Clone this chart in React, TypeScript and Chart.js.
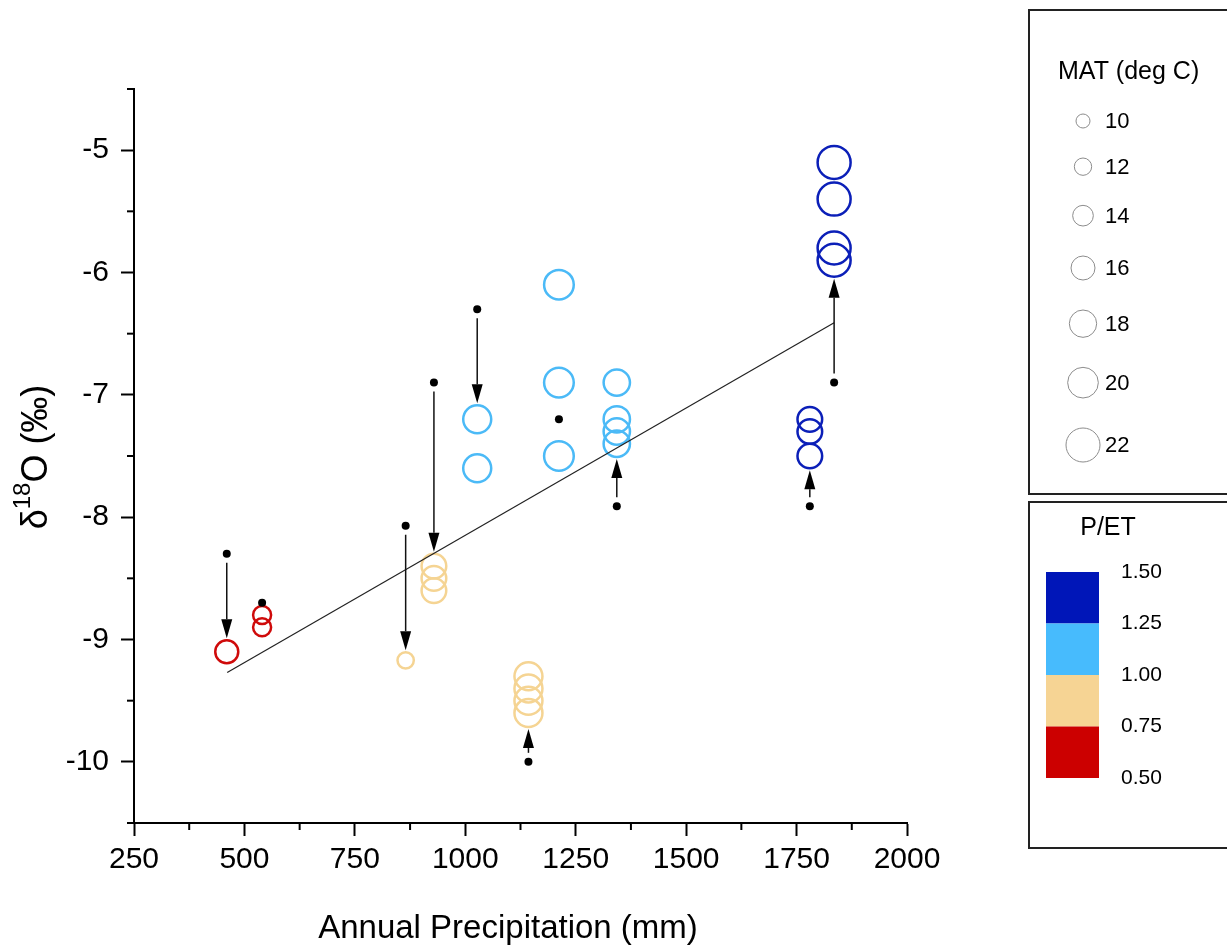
import React, { useEffect, useRef } from 'react';
import { Chart, registerables } from 'chart.js';

Chart.register(...registerables);

// ---- Data ----
// P/ET 0.50-0.75 (red)
const redPrecip = [460, 540, 540];
const redD18O = [-9.1, -8.8, -8.9];
const redMAT = [16, 13, 13];
// P/ET 0.75-1.00 (tan)
const tanPrecip = [865, 929, 929, 929, 1143, 1143, 1143, 1143];
const tanD18O = [-9.17, -8.4, -8.5, -8.6, -9.3, -9.4, -9.5, -9.6];
const tanMAT = [12, 17, 17, 17, 19, 19, 19, 19];
// P/ET 1.00-1.25 (light blue)
const lightPrecip = [1027, 1027, 1212, 1212, 1212, 1343, 1343, 1343, 1343];
const lightD18O = [-7.2, -7.6, -6.1, -6.9, -7.5, -6.9, -7.2, -7.3, -7.4];
const lightMAT = [19, 19, 20, 20, 20, 18, 18, 18, 18];
// P/ET 1.25-1.50 (dark blue)
const darkPrecip = [1780, 1780, 1780, 1835, 1835, 1835, 1835];
const darkD18O = [-7.2, -7.3, -7.5, -5.1, -5.4, -5.8, -5.9];
const darkMAT = [17, 17, 17, 22, 22, 22, 22];

// small black points (starting values)
const dotPrecip = [460, 540, 865, 929, 1027, 1143, 1212, 1343, 1780, 1835];
const dotD18O = [-8.3, -8.7, -8.07, -6.9, -6.3, -10.0, -7.2, -7.91, -7.91, -6.9];

// arrows from black points to circles
const arrowPrecip = [460, 865, 929, 1027, 1143, 1343, 1780, 1835];
const arrowFrom = [-8.3, -8.07, -6.9, -6.3, -10.0, -7.91, -7.91, -6.9];
const arrowTo = [-9.1, -9.17, -8.4, -7.2, -9.6, -7.4, -7.5, -5.9];
const arrowToMAT = [16, 12, 17, 19, 19, 18, 17, 22];

// regression line
const fitPrecip = [461, 1835];
const fitD18O = [-9.27, -6.41];

// legends
const matLegend = [10, 12, 14, 16, 18, 20, 22];
const petLabels = ['1.50', '1.25', '1.00', '0.75', '0.50'];
const petColors = ['#0016b8', '#47bbfd', '#f6d494', '#cc0000'];

const circleColors = { red: '#cf0a0a', tan: '#f5d493', light: '#4bbaf7', dark: '#0b1fb8' };

const FONT = '"Liberation Sans", Arial, Helvetica, sans-serif';
const matToRadius = (m: number) => 6.5 + ((m - 10) * 10) / 12;

const pts = (xs: number[], ys: number[]) => xs.map((x, i) => ({ x, y: ys[i] }));

const circleDataset = (label: string, xs: number[], ys: number[], mats: number[], color: string) => ({
  type: 'scatter' as const,
  label,
  data: pts(xs, ys),
  showLine: false,
  pointRadius: (c: any) => matToRadius(mats[c.dataIndex]),
  pointBorderWidth: 2.5,
  pointBorderColor: color,
  pointBackgroundColor: 'rgba(0,0,0,0)',
});

const overlay = {
  id: 'overlay',
  afterDatasetsDraw(chart: any) {
    const ctx = chart.ctx;
    const xs = chart.scales.x;
    const ys = chart.scales.y;
    ctx.save();
    ctx.strokeStyle = '#111';
    ctx.fillStyle = '#000';
    ctx.lineWidth = 1.5;
    arrowPrecip.forEach((p, i) => {
      const x = xs.getPixelForValue(p);
      const y0 = ys.getPixelForValue(arrowFrom[i]);
      const yc = ys.getPixelForValue(arrowTo[i]);
      const dir = yc > y0 ? 1 : -1;
      const tip = yc - dir * (matToRadius(arrowToMAT[i]) + 2);
      const head = 19;
      const start = y0 + dir * 9;
      ctx.beginPath();
      ctx.moveTo(x, start);
      ctx.lineTo(x, tip - dir * head);
      ctx.stroke();
      ctx.beginPath();
      ctx.moveTo(x, tip);
      ctx.lineTo(x - 5.5, tip - dir * head);
      ctx.lineTo(x + 5.5, tip - dir * head);
      ctx.closePath();
      ctx.fill();
    });
    ctx.restore();
  },
  afterDraw(chart: any) {
    const ctx = chart.ctx;
    const xs = chart.scales.x;
    const ys = chart.scales.y;
    const area = chart.chartArea;
    ctx.save();
    // minor ticks
    ctx.strokeStyle = '#000';
    ctx.lineWidth = 2;
    for (let v = 375; v < 2000; v += 250) {
      const x = xs.getPixelForValue(v);
      ctx.beginPath();
      ctx.moveTo(x, area.bottom);
      ctx.lineTo(x, area.bottom + 7);
      ctx.stroke();
    }
    for (let v = -10.5; v <= -4.5; v += 1) {
      const y = ys.getPixelForValue(v);
      ctx.beginPath();
      ctx.moveTo(area.left, y);
      ctx.lineTo(area.left - 7, y);
      ctx.stroke();
    }

    // x title
    ctx.fillStyle = '#000';
    ctx.font = `33px ${FONT}`;
    ctx.textAlign = 'center';
    ctx.textBaseline = 'middle';
    ctx.fillText('Annual Precipitation (mm)', 508, 929);

    // y title with superscript
    ctx.save();
    ctx.translate(47, 457);
    ctx.rotate(-Math.PI / 2);
    ctx.textBaseline = 'alphabetic';
    ctx.textAlign = 'left';
    const big = `36px ${FONT}`;
    const small = `24px ${FONT}`;
    ctx.font = big;
    const w1 = ctx.measureText('δ').width;
    const w3 = ctx.measureText('O (‰)').width;
    ctx.font = small;
    const w2 = ctx.measureText('18').width;
    let cx = -(w1 + w2 + w3) / 2;
    ctx.font = big;
    ctx.fillText('δ', cx, 0);
    cx += w1;
    ctx.font = small;
    ctx.fillText('18', cx, -17);
    cx += w2;
    ctx.font = big;
    ctx.fillText('O (‰)', cx, 0);
    ctx.restore();

    // legend boxes
    ctx.strokeStyle = '#222';
    ctx.lineWidth = 2;
    ctx.strokeRect(1029, 10, 220, 484);
    ctx.strokeRect(1029, 502, 220, 346);

    // MAT legend
    ctx.fillStyle = '#000';
    ctx.textAlign = 'left';
    ctx.textBaseline = 'middle';
    ctx.font = `25px ${FONT}`;
    ctx.fillText('MAT (deg C)', 1058, 72);
    let y = 121;
    ctx.font = `22px ${FONT}`;
    matLegend.forEach((m, i) => {
      const r = matToRadius(m) + 0.5;
      if (i > 0) y += matToRadius(matLegend[i - 1]) + r + 30.5;
      ctx.beginPath();
      ctx.arc(1083, y, r, 0, Math.PI * 2);
      ctx.strokeStyle = '#8c8c8c';
      ctx.lineWidth = 1;
      ctx.stroke();
      ctx.fillText(String(m), 1105, y + 1);
    });

    // P/ET legend
    ctx.font = `25px ${FONT}`;
    ctx.textAlign = 'center';
    ctx.fillText('P/ET', 1108, 528);
    const barTop = 572;
    const seg = 51.5;
    petColors.forEach((c, i) => {
      ctx.fillStyle = c;
      ctx.fillRect(1046, barTop + i * seg, 53, seg);
    });
    ctx.fillStyle = '#000';
    ctx.textAlign = 'left';
    ctx.font = `21px ${FONT}`;
    petLabels.forEach((l, i) => {
      ctx.fillText(l, 1121, barTop + i * seg);
    });
    ctx.restore();
  },
};

export default function App() {
  const ref = useRef<HTMLCanvasElement | null>(null);
  useEffect(() => {
    if (!ref.current) return;
    const chart = new Chart(ref.current, {
      type: 'scatter',
      data: {
        datasets: [
          {
            type: 'line' as any,
            label: 'fit',
            data: pts(fitPrecip, fitD18O),
            borderColor: '#222',
            borderWidth: 1.2,
            pointRadius: 0,
            fill: false,
          } as any,
          {
            type: 'scatter',
            label: 'start',
            data: pts(dotPrecip, dotD18O),
            pointRadius: 4,
            pointBackgroundColor: '#000',
            pointBorderColor: '#000',
            pointBorderWidth: 0,
          },
          circleDataset('0.50-0.75', redPrecip, redD18O, redMAT, circleColors.red),
          circleDataset('0.75-1.00', tanPrecip, tanD18O, tanMAT, circleColors.tan),
          circleDataset('1.00-1.25', lightPrecip, lightD18O, lightMAT, circleColors.light),
          circleDataset('1.25-1.50', darkPrecip, darkD18O, darkMAT, circleColors.dark),
        ] as any,
      },
      options: {
        animation: false,
        responsive: false,
        events: [],
        layout: { padding: { left: 0, top: 89, right: 320, bottom: 0 } },
        plugins: { legend: { display: false }, tooltip: { enabled: false } },
        scales: {
          x: {
            type: 'linear',
            position: 'bottom',
            min: 250,
            max: 2000,
            afterFit: (s: any) => {
              s.height = 126;
            },
            border: { display: true, color: '#000', width: 2 },
            grid: {
              display: true,
              drawOnChartArea: false,
              drawTicks: true,
              tickLength: 13,
              tickWidth: 2,
              tickColor: (c: any) => (c.tick && c.tick.value % 250 === 0 ? '#000' : 'rgba(0,0,0,0)'),
            },
            ticks: {
              stepSize: 125,
              autoSkip: false,
              maxRotation: 0,
              minRotation: 0,
              padding: 6,
              color: '#000',
              font: { family: FONT, size: 30 },
              callback: (v: any) => (Number(v) % 250 === 0 ? String(v) : ''),
            },
          },
          y: {
            type: 'linear',
            min: -10.5,
            max: -4.5,
            afterFit: (s: any) => {
              s.width = 134;
            },
            border: { display: true, color: '#000', width: 2 },
            grid: {
              display: true,
              drawOnChartArea: false,
              drawTicks: true,
              tickLength: 13,
              tickWidth: 2,
              tickColor: (c: any) => (c.tick && Number.isInteger(c.tick.value) ? '#000' : 'rgba(0,0,0,0)'),
            },
            ticks: {
              stepSize: 0.5,
              autoSkip: false,
              padding: 12,
              color: '#000',
              font: { family: FONT, size: 30 },
              callback: (v: any) => (Number.isInteger(Number(v)) ? String(v) : ''),
            },
          },
        },
      } as any,
      plugins: [overlay],
    });
    return () => chart.destroy();
  }, []);
  return (
    <div style={{ position: 'fixed', left: 0, top: 0, width: 1227, height: 949, background: '#fff' }}>
      <canvas ref={ref} width={1227} height={949} style={{ display: 'block' }} />
    </div>
  );
}
